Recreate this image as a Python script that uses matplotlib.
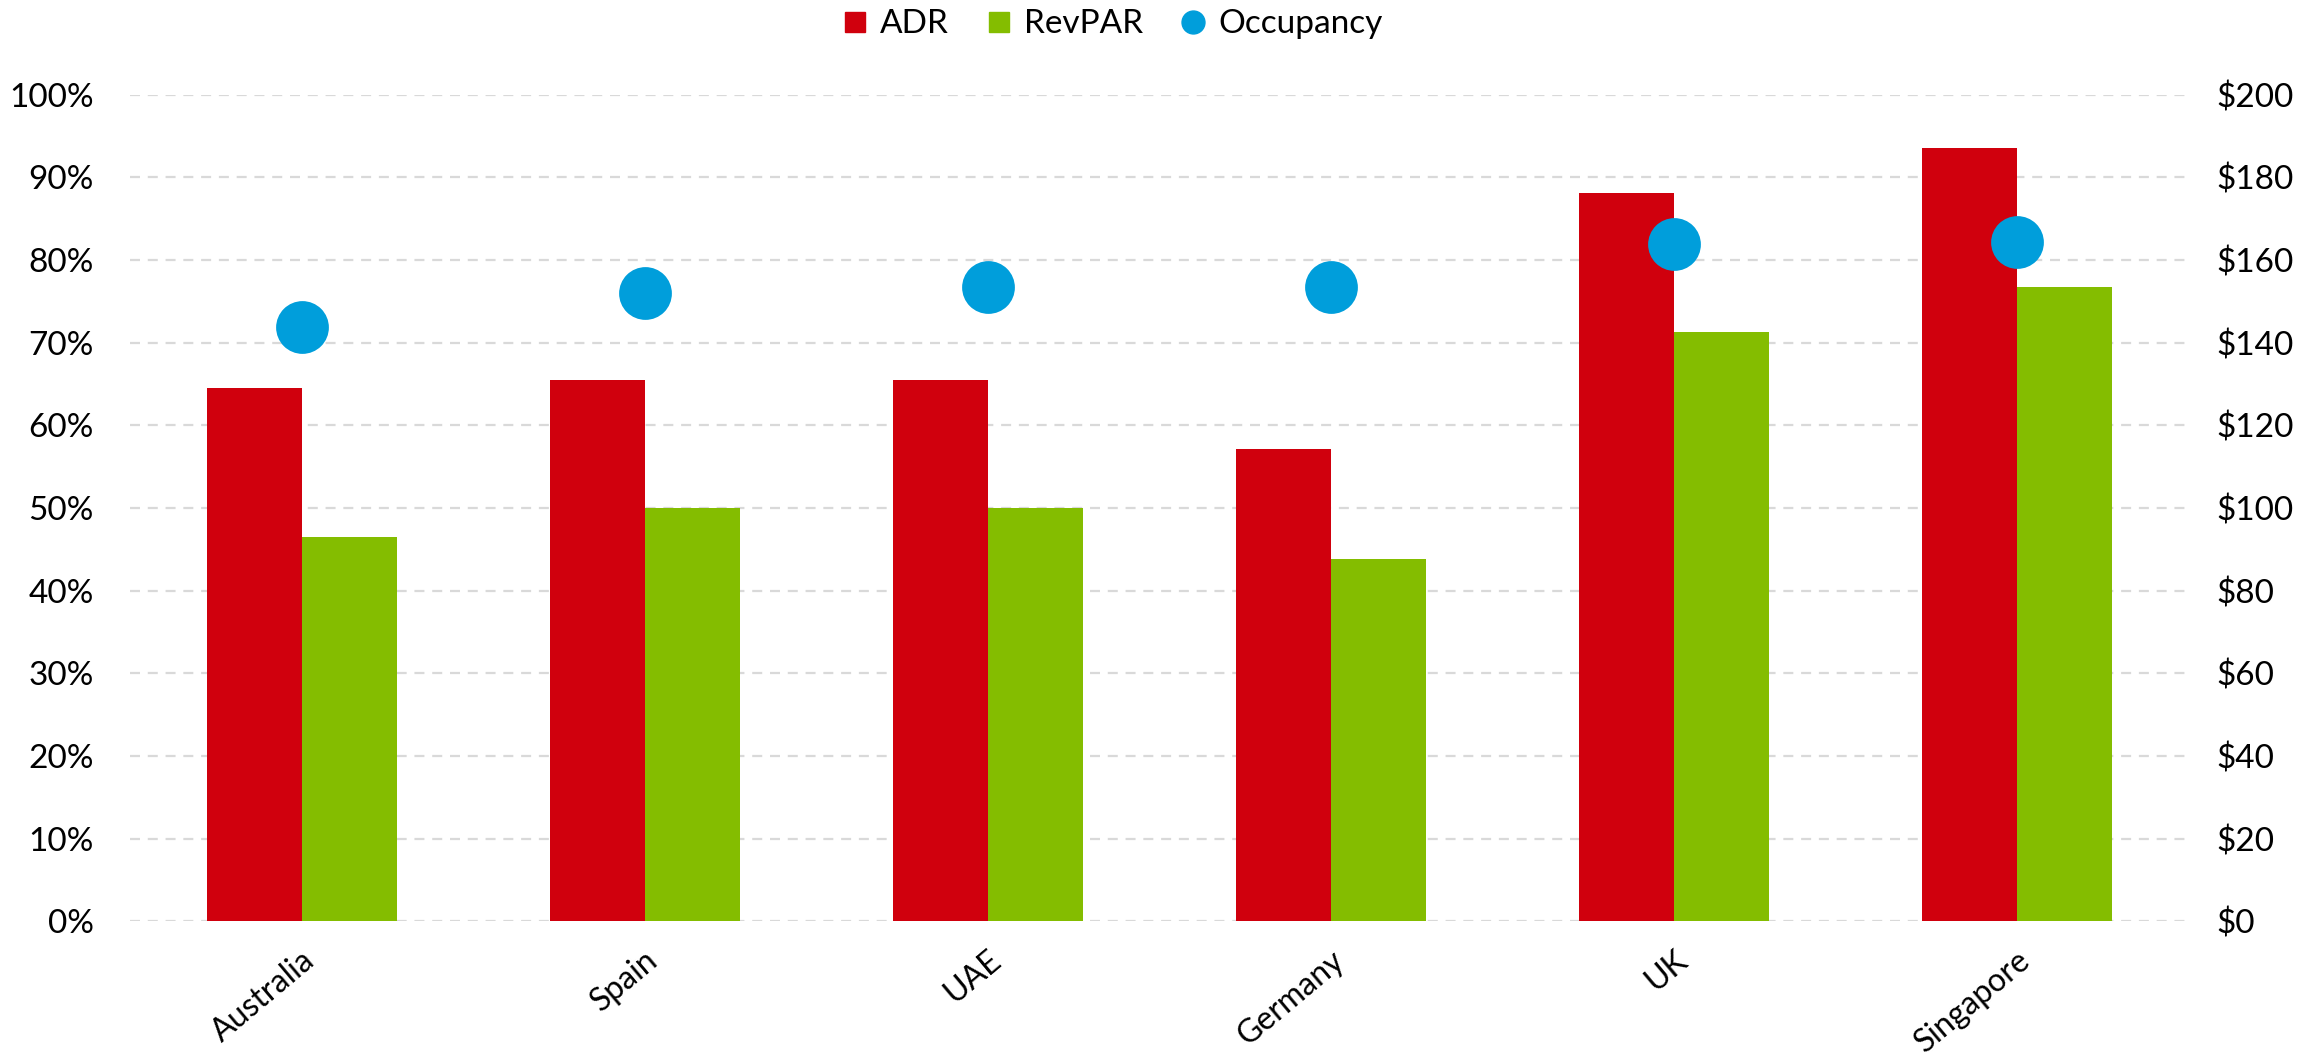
import matplotlib
matplotlib.use("Agg")
import matplotlib.pyplot as plt
from matplotlib.lines import Line2D
from matplotlib.ticker import FuncFormatter
import numpy as np

plt.rcParams["font.family"] = ["Lato", "DejaVu Sans"]

countries = ["Australia", "Spain", "UAE", "Germany", "UK", "Singapore"]
adr = [129.0, 130.9, 130.9, 114.2, 176.1, 187.0]
revpar = [92.9, 100.0, 100.0, 87.7, 142.6, 153.5]
occupancy = [71.9, 76.0, 76.7, 76.7, 81.9, 82.2]

RED = "#D0000D"
GREEN = "#84BD00"
BLUE = "#009EDB"
GRID = "#D9D9D9"
FS = 24

fig = plt.figure(figsize=(23.23, 10.59), dpi=100)
ax = fig.add_axes([0.056, 0.130, 0.886, 0.7806])
ax2 = ax.twinx()

x = np.arange(len(countries))
w = 0.277

# bars go on the dollar axis, dots on the percentage axis
ax2.bar(x - w / 2, adr, width=w, color=RED, zorder=2)
ax2.bar(x + w / 2, revpar, width=w, color=GREEN, zorder=2)

ax.set_zorder(ax2.get_zorder() + 1)
ax.patch.set_visible(False)
ax.plot(x, occupancy, linestyle="none", marker="o", markersize=38,
        color=BLUE, markeredgewidth=0, zorder=3)

ax.set_xlim(-0.5, len(countries) - 0.5)
ax.set_ylim(0, 100)
ax2.set_ylim(0, 200)
ax.set_yticks(np.arange(0, 101, 10))
ax2.set_yticks(np.arange(0, 201, 20))
ax.yaxis.set_major_formatter(FuncFormatter(lambda v, _: f"{v:.0f}%"))
ax2.yaxis.set_major_formatter(FuncFormatter(lambda v, _: f"${v:.0f}"))

for yv in np.arange(0, 201, 20):
    ax2.axhline(yv, color=GRID, linewidth=1.6, dashes=(4.5, 3.5), zorder=1)

ax.set_xticks(x)
ax.set_xticklabels(countries, rotation=40, ha="right", rotation_mode="anchor")

for a in (ax, ax2):
    for s in a.spines.values():
        s.set_visible(False)
    a.tick_params(length=0, labelsize=FS, colors="black")
ax.tick_params(axis="y", pad=26)
ax2.tick_params(axis="y", pad=20)
ax.tick_params(axis="x", pad=17, labelsize=23)

handles = [
    Line2D([], [], linestyle="none", marker="s", markersize=15, color=RED),
    Line2D([], [], linestyle="none", marker="s", markersize=15, color=GREEN),
    Line2D([], [], linestyle="none", marker="o", markersize=16.5, color=BLUE),
]
fig.legend(handles, ["ADR", "RevPAR", "Occupancy"], loc="center",
           bbox_to_anchor=(0.478, 0.977), ncol=3, frameon=False,
           fontsize=FS, handletextpad=0.25, columnspacing=1.0, handlelength=1.0)

fig.savefig("out.png", dpi=100)
